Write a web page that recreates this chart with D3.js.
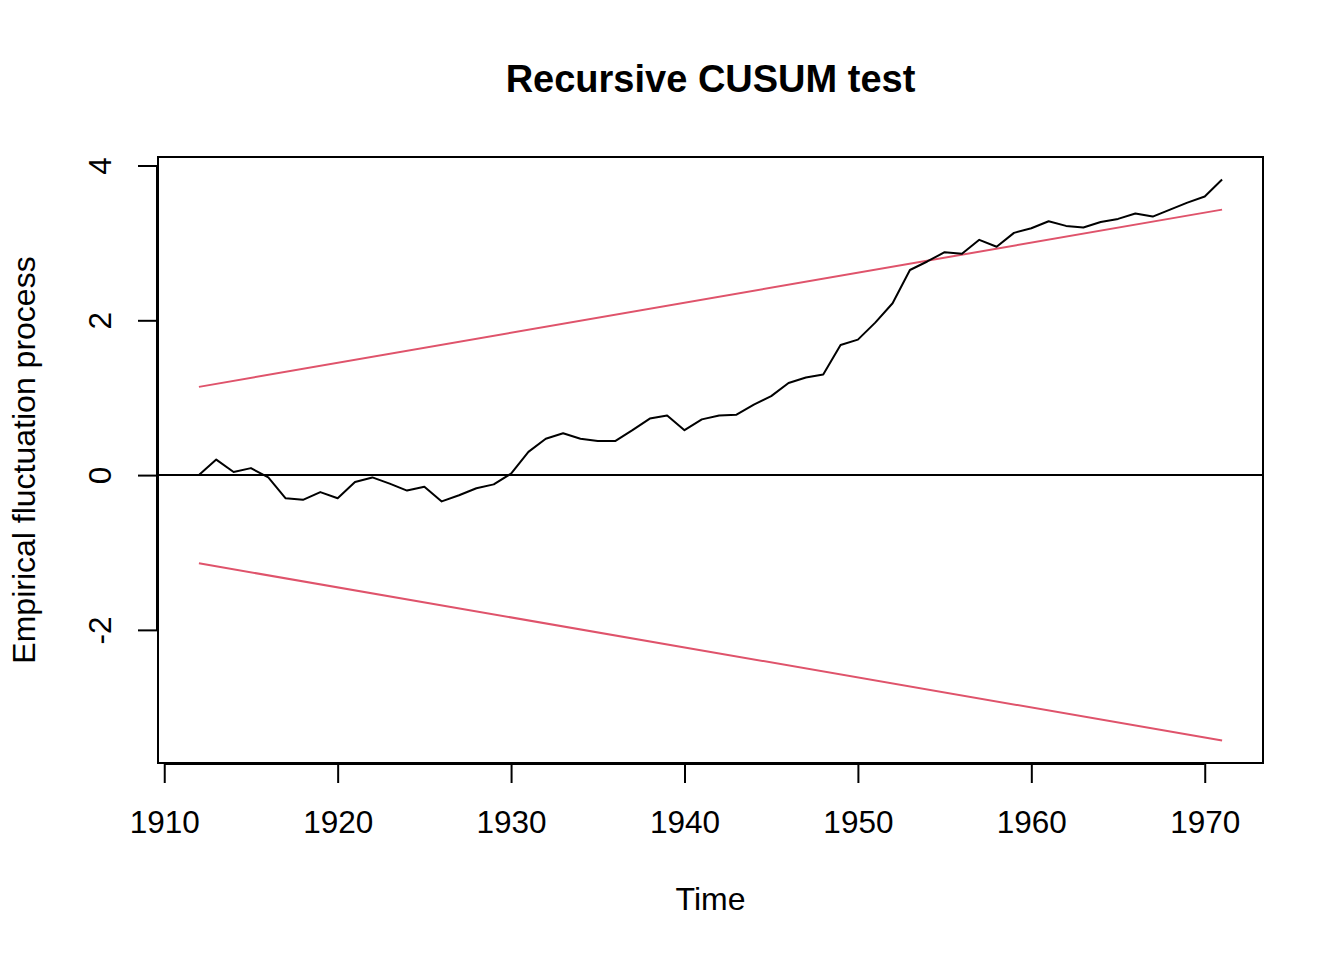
<!DOCTYPE html>
<html>
<head>
<meta charset="utf-8">
<script src="https://cdn.jsdelivr.net/npm/d3@7"></script>
<style>
  body { margin: 0; background: #fff; }
  text { font-family: "Liberation Sans", Arial, sans-serif; fill: #000; }
</style>
</head>
<body>
<svg id="chart" width="1344" height="960"></svg>
<script>
// years of the fluctuation process
var years = d3.range(1912, 1972);

// empirical fluctuation process
var process = [
  0.00, 0.20, 0.04, 0.09, -0.03, -0.30, -0.32, -0.22, -0.30, -0.09,
  -0.03, -0.11, -0.20, -0.15, -0.34, -0.26, -0.17, -0.12, 0.02, 0.30,
  0.47, 0.54, 0.47, 0.44, 0.44, 0.58, 0.73, 0.77, 0.58, 0.72,
  0.77, 0.78, 0.91, 1.02, 1.19, 1.26, 1.30, 1.68, 1.75, 1.97,
  2.22, 2.65, 2.76, 2.88, 2.86, 3.04, 2.95, 3.13, 3.19, 3.28,
  3.22, 3.20, 3.27, 3.31, 3.38, 3.34, 3.43, 3.52, 3.60, 3.82
];

// boundary ends (upper; lower is the mirror)
var boundYears = [1912, 1971];
var boundUpper = [1.14, 3.43];
var boundLower = [-1.14, -3.43];

var xTicks = [1910, 1920, 1930, 1940, 1950, 1960, 1970];
var yTicks = [-2, 0, 2, 4];

var plot = {left: 158, right: 1263, top: 157, bottom: 763};
var svg = d3.select("#chart");

// R style 4% range padding
var xExt = d3.extent(years), xPad = (xExt[1] - xExt[0]) * 0.04;
var yExt = d3.extent(process.concat(boundUpper, boundLower)), yPad = (yExt[1] - yExt[0]) * 0.04;

var x = d3.scaleLinear().domain([xExt[0] - xPad, xExt[1] + xPad]).range([plot.left, plot.right]);
var y = d3.scaleLinear().domain([yExt[0] - yPad, yExt[1] + yPad]).range([plot.bottom, plot.top]);

var line = d3.line().x(function(d) { return x(d[0]); }).y(function(d) { return y(d[1]); });

// boundaries
[boundUpper, boundLower].forEach(function(b) {
  svg.append("path")
    .datum(boundYears.map(function(yr, i) { return [yr, b[i]]; }))
    .attr("d", line)
    .attr("fill", "none")
    .attr("stroke", "#DF536B")
    .attr("stroke-width", 2);
});

// zero line
svg.append("line")
  .attr("x1", plot.left).attr("x2", plot.right)
  .attr("y1", y(0)).attr("y2", y(0))
  .attr("stroke", "#000").attr("stroke-width", 2);

// process
svg.append("path")
  .datum(years.map(function(yr, i) { return [yr, process[i]]; }))
  .attr("d", line)
  .attr("fill", "none")
  .attr("stroke", "#000")
  .attr("stroke-width", 2)
  .attr("stroke-linejoin", "round");

// box
svg.append("rect")
  .attr("x", plot.left).attr("y", plot.top)
  .attr("width", plot.right - plot.left).attr("height", plot.bottom - plot.top)
  .attr("fill", "none").attr("stroke", "#000").attr("stroke-width", 2);

// x axis
var xAxis = svg.append("g")
  .attr("transform", "translate(0," + (plot.bottom + 1) + ")")
  .call(d3.axisBottom(x).tickValues(xTicks).tickFormat(String).tickSize(19));
xAxis.select(".domain").attr("d", "M" + x(xTicks[0]) + ",0H" + x(xTicks[xTicks.length - 1])).attr("stroke-width", 2);
xAxis.selectAll(".tick line").attr("stroke-width", 2);
xAxis.selectAll(".tick text")
  .attr("font-size", 31.5)
  .attr("font-family", "Liberation Sans, Arial, sans-serif")
  .attr("y", 69).attr("dy", null);

// y axis
var yAxis = svg.append("g")
  .attr("transform", "translate(" + (plot.left - 1) + ",0)")
  .call(d3.axisLeft(y).tickValues(yTicks).tickSize(19).tickFormat(String));
yAxis.select(".domain").attr("d", "M0," + y(yTicks[0]) + "V" + y(yTicks[yTicks.length - 1])).attr("stroke-width", 2);
yAxis.selectAll(".tick line").attr("stroke-width", 2);
yAxis.selectAll(".tick text")
  .attr("font-size", 31.5)
  .attr("font-family", "Liberation Sans, Arial, sans-serif")
  .attr("x", null).attr("dy", null)
  .attr("text-anchor", "middle")
  .attr("transform", "translate(-46,0) rotate(-90)");

// titles
svg.append("text")
  .attr("x", (plot.left + plot.right) / 2).attr("y", 92)
  .attr("text-anchor", "middle")
  .attr("font-size", 38).attr("font-weight", "bold")
  .text("Recursive CUSUM test");

svg.append("text")
  .attr("x", (plot.left + plot.right) / 2).attr("y", 910)
  .attr("text-anchor", "middle")
  .attr("font-size", 32)
  .text("Time");

svg.append("text")
  .attr("transform", "translate(35," + ((plot.top + plot.bottom) / 2) + ") rotate(-90)")
  .attr("text-anchor", "middle")
  .attr("font-size", 32)
  .text("Empirical fluctuation process");
</script>
</body>
</html>
